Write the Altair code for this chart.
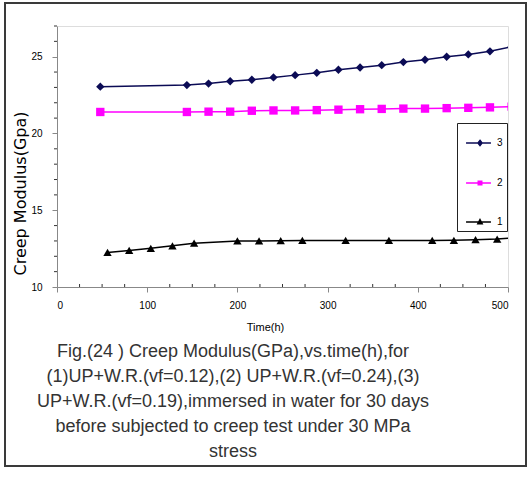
import altair as alt
import pandas as pd

# ---- data ----
hours_23 = [48, 144, 168, 192, 216, 240, 264, 288, 312, 336, 360, 384, 408, 432, 456, 480, 504]
series3 = [23.05, 23.15, 23.25, 23.4, 23.5, 23.65, 23.8, 23.95, 24.15, 24.3, 24.45, 24.65, 24.8, 25.0, 25.15, 25.35, 25.65]
series2 = [21.4, 21.4, 21.42, 21.42, 21.48, 21.5, 21.5, 21.52, 21.55, 21.58, 21.6, 21.62, 21.62, 21.65, 21.67, 21.7, 21.75]
hours_1 = [56, 80, 104, 128, 152, 200, 224, 248, 272, 320, 368, 416, 440, 464, 488, 512]
series1 = [12.25, 12.38, 12.52, 12.68, 12.85, 13.0, 13.0, 13.02, 13.03, 13.03, 13.03, 13.03, 13.04, 13.08, 13.12, 13.22]

names = ["3", "2", "1"]
colors = ["#0b0b55", "#ff00ff", "#000000"]
shapes = ["diamond", "square", "triangle-up"]
legend_paths = [
    "M-0.73,0H0.93M0.2,-0.18L0.34,0L0.2,0.18L0.06,0Z",
    "M-0.73,0H0.93M0.08,-0.12H0.32V0.12H0.08Z",
    "M-0.73,0H0.93M0.2,-0.16L0.35,0.12H0.05Z",
]
x_major = [0, 100, 200, 300, 400, 500]
y_major = [10, 15, 20, 25]
x_minor = [v for v in range(0, 501, 25) if v % 100 != 0]
y_minor = [v for v in range(10, 28) if v % 5 != 0]

caption = [
    "Fig.(24 ) Creep Modulus(GPa),vs.time(h),for",
    "(1)UP+W.R.(vf=0.12),(2) UP+W.R.(vf=0.24),(3)",
    "UP+W.R.(vf=0.19),immersed in water for 30 days",
    "before subjected to creep test under 30 MPa",
    "stress",
]

W, H = 451, 261

rows = []
for h, v in zip(hours_23, series3):
    rows.append({"t": h, "m": v, "s": "3"})
for h, v in zip(hours_23, series2):
    rows.append({"t": h, "m": v, "s": "2"})
for h, v in zip(hours_1, series1):
    rows.append({"t": h, "m": v, "s": "1"})
df = pd.DataFrame(rows)

color_scale = alt.Scale(domain=names, range=colors)
x_scale = alt.Scale(domain=[0, 500], nice=False)
y_scale = alt.Scale(domain=[10, 27], nice=False)

x_axis = alt.Axis(
    title="Time(h)",
    values=x_major,
    grid=False,
    tickSize=5,
    labelPadding=8,
    titleX=208,
    titleY=34,
    titleBaseline="top",
    titleFontWeight="normal",
)
y_axis = alt.Axis(
    title="Creep Modulus(Gpa)",
    values=y_major,
    grid=False,
    tickSize=5,
    labelPadding=10,
    titleX=-37,
    titleY=167,
    titleAlign="center",
    titleBaseline="middle",
    titleAngle=270,
    titleFontWeight="normal",
    titleFont="DejaVu Sans",
    titleFontSize=16,
)

X0 = alt.X("t:Q", axis=None)
Y0 = alt.Y("m:Q", axis=None)

base = alt.Chart(df)

layers = []
for i, (name, col, shp) in enumerate(zip(names, colors, shapes)):
    sub = base.transform_filter(alt.datum.s == name)
    if i == 0:
        xe = alt.X("t:Q", scale=x_scale, axis=x_axis)
        ye = alt.Y("m:Q", scale=y_scale, axis=y_axis)
    else:
        xe, ye = X0, Y0
    layers.append(sub.mark_line(strokeWidth=1.5, color=col, clip=True).encode(x=xe, y=ye))
    layers.append(
        sub.mark_point(filled=True, opacity=1, size=70, shape=shp, color=col, clip=True)
        .encode(x=X0, y=Y0)
    )

leg = alt.Legend(orient="none", legendX=400, legendY=97, title=None,
                 symbolSize=900, symbolStrokeWidth=1.4, symbolOpacity=1,
                 strokeColor="#222222", fillColor="#ffffff", padding=4,
                 rowPadding=18, labelOffset=4)
legend_layer = base.mark_point(filled=True, opacity=0, clip=True).encode(
    x=X0, y=Y0,
    fill=alt.Fill("s:N", scale=color_scale, legend=leg),
    stroke=alt.Stroke("s:N", scale=color_scale, legend=leg),
    shape=alt.Shape("s:N", scale=alt.Scale(domain=names, range=legend_paths), legend=leg),
)

x_minor_ticks = alt.Chart(pd.DataFrame({"t": x_minor})).mark_rule(
    color="#333333", strokeWidth=1
).encode(x=X0, y=alt.value(H), y2=alt.value(H - 3))

y_minor_ticks = alt.Chart(pd.DataFrame({"m": y_minor})).mark_rule(
    color="#333333", strokeWidth=1, clip=False
).encode(y=Y0, x=alt.value(0), x2=alt.value(-3))

caption_text = alt.Chart(alt.Data(values=[{}])).mark_text(
    text=caption, fontSize=18, lineHeight=25, font="Liberation Sans",
    color="#333333", align="center", baseline="top", clip=False
).encode(x=alt.value(176), y=alt.value(317))

frame = alt.Chart(alt.Data(values=[{}])).mark_rect(
    fill=None, stroke="#3a3a3a", strokeWidth=2, clip=False
).encode(
    x=alt.value(-52), x2=alt.value(469), y=alt.value(-23), y2=alt.value(440)
)

chart = alt.layer(
    *layers, x_minor_ticks, y_minor_ticks, legend_layer, caption_text, frame
).resolve_axis(
    x="independent", y="independent"
).properties(
    width=W,
    height=H,
    padding={"left": 57, "top": 26, "right": 21, "bottom": 191},
    autosize=alt.AutoSizeParams(type="none"),
).configure_view(
    stroke="#666666", strokeWidth=1
).configure_axis(
    domainColor="#333333", domainWidth=1.5,
    tickColor="#333333", tickWidth=1,
    labelFont="Liberation Sans", labelFontSize=11, labelColor="#333333",
    titleFont="Liberation Sans", titleFontSize=13, titleColor="#333333",
    grid=False,
).configure_legend(
    strokeColor="#222222", fillColor="#ffffff", padding=4,
    symbolSize=900, symbolStrokeWidth=1.4, rowPadding=18, labelOffset=4,
    labelFont="Liberation Sans", labelFontSize=11, labelColor="#555555",
    cornerRadius=0,
).configure(background="#ffffff")

chart.save("out.html", embed_options={"renderer": "svg", "actions": False})
